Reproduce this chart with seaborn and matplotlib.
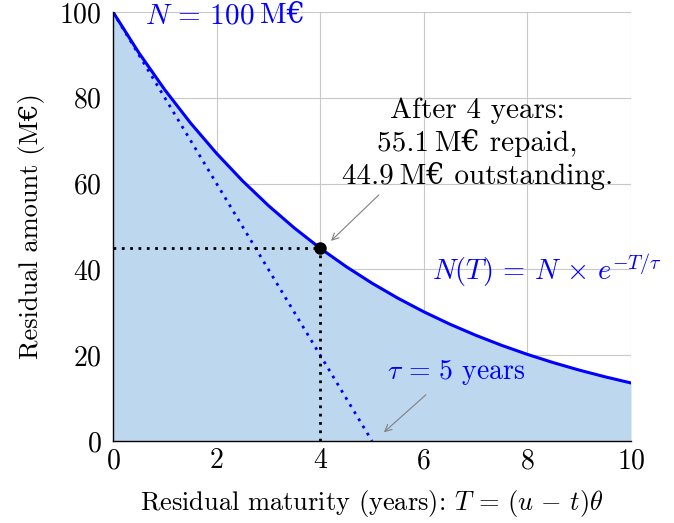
import matplotlib
matplotlib.use("Agg")
import matplotlib.pyplot as plt
import seaborn as sns
import pandas as pd

# Data
maturity = [0, 0.5, 1, 1.5, 2, 2.5, 3, 3.5, 4, 4.5, 5, 5.5, 6, 6.5, 7, 7.5, 8, 8.5, 9, 9.5, 10]
amount = [100, 90.48, 81.87, 74.08, 67.03, 60.65, 54.88, 49.66, 44.93, 40.66, 36.79,
          33.29, 30.12, 27.25, 24.66, 22.31, 20.19, 18.27, 16.53, 14.96, 13.53]
tangent_x = [0, 5]
tangent_y = [100, 0]
point_T = 4
point_N = 44.93
x_ticks = [0, 2, 4, 6, 8, 10]
y_ticks = [0, 20, 40, 60, 80, 100]

sns.set_theme(style="white")
plt.rcParams['font.family'] = ['cmr10', 'DejaVu Serif']
plt.rcParams['mathtext.fontset'] = 'cm'
plt.rcParams['axes.formatter.use_mathtext'] = True
for k in ['text.color', 'axes.labelcolor', 'xtick.color', 'ytick.color']:
    plt.rcParams[k] = 'black'

FS = 21

fig = plt.figure(figsize=(6.74, 5.23), dpi=100)
ax = fig.add_axes([113/674, 82/523, 518/674, 429/523])

df = pd.DataFrame({"T": maturity, "N": amount})

ax.set_xlim(0, 10)
ax.set_ylim(0, 100)
ax.set_xticks(x_ticks)
ax.set_yticks(y_ticks)
ax.grid(True, color="#c8c8c8", linewidth=0.8, zorder=0)
ax.set_axisbelow(True)

ax.fill_between(df["T"], 0, df["N"], color="#bdd7ee", zorder=1, linewidth=0)
sns.lineplot(data=df, x="T", y="N", ax=ax, color="blue", linewidth=2.2, zorder=4)
ax.plot(tangent_x, tangent_y, color="blue", linewidth=2.0, linestyle=(0, (1, 2)), zorder=3)
ax.plot([0, point_T], [point_N, point_N], color="black", linewidth=2.0, linestyle=(0, (1, 2)), zorder=3)
ax.plot([point_T, point_T], [0, point_N], color="black", linewidth=2.0, linestyle=(0, (1, 2)), zorder=3)
ax.plot([point_T], [point_N], marker="o", color="black", markersize=8, zorder=5)

for s in ["top", "right"]:
    ax.spines[s].set_visible(False)
for s in ["left", "bottom"]:
    ax.spines[s].set_color("black")
    ax.spines[s].set_linewidth(1.0)
    ax.spines[s].set_zorder(6)

ax.tick_params(axis="both", labelsize=20, length=0, colors="black")
ax.tick_params(axis="x", pad=5)
ax.tick_params(axis="y", pad=8)
ax.set_xlabel(r"Residual maturity (years): $T\,=\,(u\,-\,t)\theta$", fontsize=19, labelpad=10)
ax.set_ylabel("Residual amount (M€)", fontsize=19, labelpad=10)

t1 = ax.text(0.62, 99.0, r"$N\,=\,100$", color="blue", fontsize=FS, va="center", ha="left")
ax.text(6.16, 39.9, r"$N(T)\,=\,N\,\times\,e^{-T/\tau}$", color="blue", fontsize=20.5,
        va="center", ha="left", clip_on=False)
ax.text(5.29, 16.1, r"$\tau\,=\,5$ years", color="blue", fontsize=20, va="center", ha="left")
ax.text(7.03, 69.3, "After 4 years:\n55.1\u2009M€ repaid,\n44.9\u2009M€ outstanding.",
        fontsize=FS, va="center", ha="center", linespacing=1.22)

fig.canvas.draw()
bb = t1.get_window_extent(renderer=fig.canvas.get_renderer())
ax.annotate("M€", xy=(bb.x1, (bb.y0 + bb.y1) / 2), xycoords="figure pixels",
            xytext=(4, 0), textcoords="offset points", color="blue", fontsize=FS,
            va="center", ha="left")

ax.annotate("", xy=(4.17, 46.2), xytext=(5.17, 57.8),
            arrowprops=dict(arrowstyle="->", color="gray", linewidth=0.8))
ax.annotate("", xy=(5.19, 1.6), xytext=(6.08, 11.2),
            arrowprops=dict(arrowstyle="->", color="gray", linewidth=0.8))

fig.savefig("out.png", dpi=100)
